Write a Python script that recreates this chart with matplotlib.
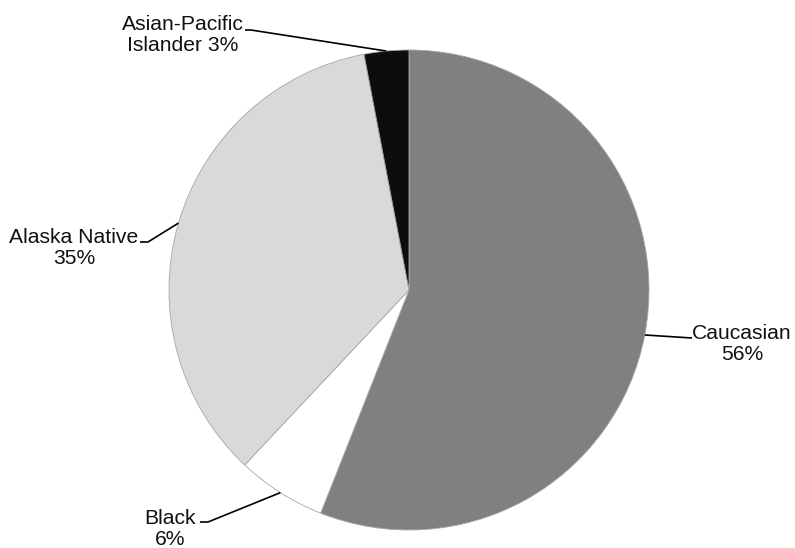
import numpy as np
import matplotlib
matplotlib.use("Agg")
import matplotlib.pyplot as plt

plt.rcParams['font.family'] = ['Liberation Sans', 'DejaVu Sans']

categories = ["Caucasian", "Black", "Alaska Native", "Asian-Pacific Islander"]
values = [56, 6, 35, 3]
labels = ["Caucasian\n56%", "Black\n6%", "Alaska Native\n35%", "Asian-Pacific\nIslander 3%"]
colors = ["#808080", "#ffffff", "#d9d9d9", "#0d0d0d"]

W, H = 795, 548
fig = plt.figure(figsize=(W / 100, H / 100), dpi=100)
ax = fig.add_axes([0, 0, 1, 1])

cx, cy, R = 409, H - 290, 240
wedges, _ = ax.pie(values, colors=colors, startangle=90, counterclock=False,
                   center=(cx, cy), radius=R,
                   wedgeprops=dict(edgecolor="#a6a6a6", linewidth=0.6))
ax.set_xlim(0, W)
ax.set_ylim(0, H)
ax.set_aspect('auto')
ax.axis('off')

# label positions (pixel coords, y from top): text centre, leader anchor(s)
label_pos = [
    ((742, 344), [(692, 338)]),
    ((170, 529), [(200, 522), (208, 522)]),
    ((74, 248), [(140, 242), (148, 242)]),
    ((183, 35), [(245, 30), (251, 30)]),
]

for w, lab, (tp, anchors) in zip(wedges, labels, label_pos):
    mid = np.deg2rad((w.theta1 + w.theta2) / 2)
    px, py = cx + R * np.cos(mid), cy + R * np.sin(mid)
    xs = [a[0] for a in anchors] + [px]
    ys = [H - a[1] for a in anchors] + [py]
    ax.plot(xs, ys, color="black", lw=1.2, solid_capstyle='butt')
    ax.text(tp[0], H - tp[1], lab, ha="center", va="center", fontsize=15.2,
            linespacing=1.12, color="#111111")

fig.savefig("out.png", dpi=100)
